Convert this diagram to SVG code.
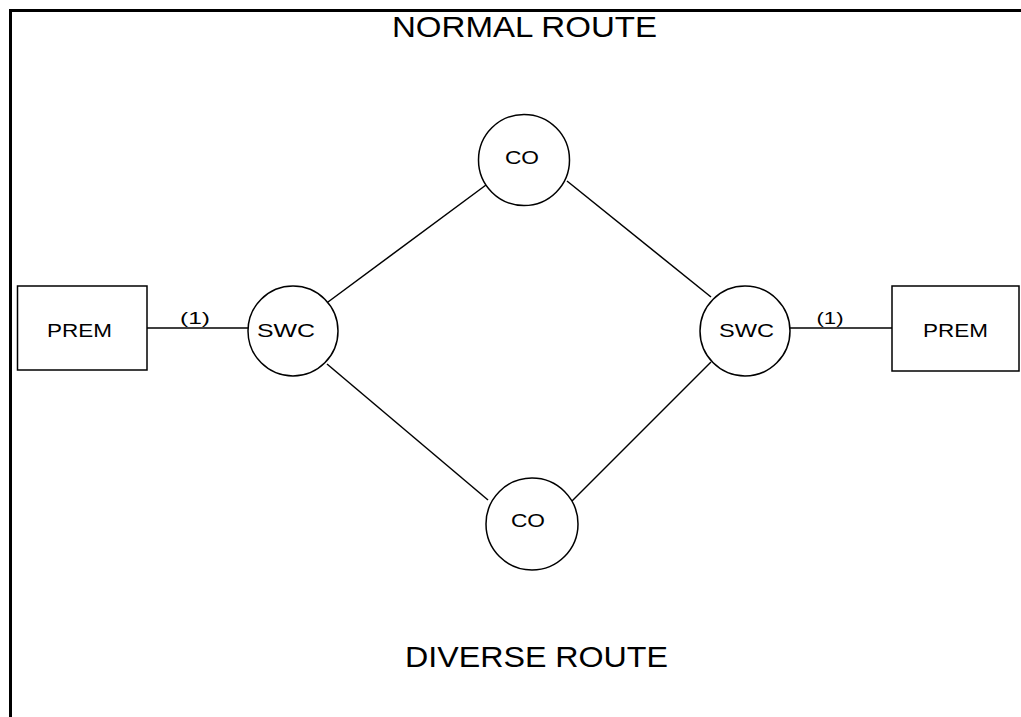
<svg xmlns="http://www.w3.org/2000/svg" width="1021" height="717" viewBox="0 0 1021 717">
<style>
.frame{fill:none;stroke:#000;stroke-width:3}
.box{fill:#fff;stroke:#000;stroke-width:1.5}
.node{fill:#fff;stroke:#000;stroke-width:1.5}
.conn{stroke:#000;stroke-width:1.5;fill:none}
text{font-family:"Liberation Sans",Arial,sans-serif;fill:#000;text-anchor:middle}
.title{font-size:29px}
.lbl{font-size:19px}
.small{font-size:18px}
.num{font-size:17px}
</style>
<rect x="0" y="0" width="1021" height="717" fill="#fff"/>
<path class="frame" d="M10.5,717 V10.5 H1021"/>
<text class="title" x="524.5" y="37" textLength="265" lengthAdjust="spacingAndGlyphs">NORMAL ROUTE</text>
<text class="title" x="536.5" y="667" textLength="263" lengthAdjust="spacingAndGlyphs">DIVERSE ROUTE</text>
<g id="connectors">
<line class="conn" x1="147" y1="328" x2="249" y2="328"/>
<line class="conn" x1="790" y1="328" x2="892" y2="328"/>
<line class="conn" x1="328" y1="302" x2="486" y2="185"/>
<line class="conn" x1="567" y1="181" x2="711" y2="297"/>
<line class="conn" x1="327" y1="364" x2="488" y2="500"/>
<line class="conn" x1="711" y1="362" x2="572" y2="501"/>
<text class="num" x="195" y="324" textLength="30" lengthAdjust="spacingAndGlyphs">(1)</text>
<text class="num" x="830" y="324" textLength="27" lengthAdjust="spacingAndGlyphs">(1)</text>
</g>
<g id="prem-left">
<rect class="box" x="17.5" y="286" width="129.5" height="84"/>
<text class="lbl" x="79.5" y="337" textLength="65" lengthAdjust="spacingAndGlyphs">PREM</text>
</g>
<g id="swc-left">
<circle class="node" cx="293" cy="331" r="45"/>
<text class="lbl" x="286" y="337" textLength="58" lengthAdjust="spacingAndGlyphs">SWC</text>
</g>
<g id="co-top">
<circle class="node" cx="524" cy="160" r="45.5"/>
<text class="lbl" x="522" y="164" textLength="34" lengthAdjust="spacingAndGlyphs">CO</text>
</g>
<g id="co-bottom">
<circle class="node" cx="532" cy="524" r="46"/>
<text class="lbl" x="528" y="527" textLength="34" lengthAdjust="spacingAndGlyphs">CO</text>
</g>
<g id="swc-right">
<circle class="node" cx="745" cy="331" r="45"/>
<text class="lbl" x="746.5" y="337" textLength="55" lengthAdjust="spacingAndGlyphs">SWC</text>
</g>
<g id="prem-right">
<rect class="box" x="892" y="286" width="127" height="85"/>
<text class="lbl" x="955.5" y="337" textLength="65" lengthAdjust="spacingAndGlyphs">PREM</text>
</g>
</svg>
